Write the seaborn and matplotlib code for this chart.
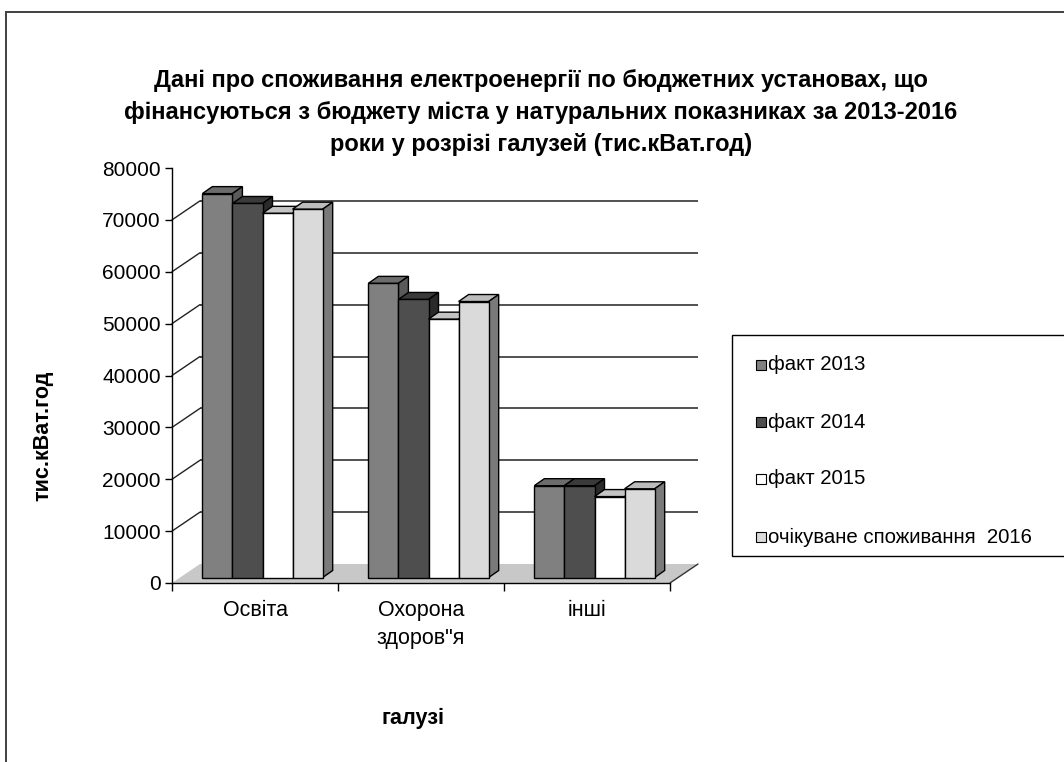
import matplotlib
matplotlib.use("Agg")
import matplotlib.pyplot as plt
import pandas as pd
import seaborn as sns
from matplotlib.patches import Polygon, Rectangle
from matplotlib.transforms import offset_copy

# ---- data (тис.кВат.год) ----
categories = ["Освіта", "Охорона\nздоров\"я", "інші"]
series = ["факт 2013", "факт 2014", "факт 2015", "очікуване споживання  2016"]
fact_2013 = [74000, 56700, 17700]
fact_2014 = [72100, 53600, 17700]
fact_2015 = [70200, 49800, 15600]
expected_2016 = [71000, 53200, 17100]
y_ticks = [0, 10000, 20000, 30000, 40000, 50000, 60000, 70000, 80000]

title = ("Дані про споживання електроенергії по бюджетних установах, що\n"
         "фінансуються з бюджету міста у натуральних показниках за 2013-2016\n"
         "роки у розрізі галузей (тис.кВат.год)")
x_label = "галузі"
y_label = "тис.кВат.год"

# ---- styles ----
front_colors = ["#808080", "#4e4e4e", "#ffffff", "#dadada"]
top_colors = ["#6c6c6c", "#3a3a3a", "#c4c4c4", "#bcbcbc"]
side_colors = ["#5a5a5a", "#2a2a2a", "#9a9a9a", "#7a7a7a"]

df = pd.DataFrame({
    "category": categories * 4,
    "series": [s for s in series for _ in categories],
    "value": fact_2013 + fact_2014 + fact_2015 + expected_2016,
})

sns.set_theme(style="white")
plt.rcParams["font.family"] = ["Liberation Sans", "DejaVu Sans"]
plt.rcParams["text.color"] = "black"
plt.rcParams["axes.labelcolor"] = "black"
plt.rcParams["xtick.color"] = "black"
plt.rcParams["ytick.color"] = "black"

W, H = 1064, 762
fig = plt.figure(figsize=(W / 100, H / 100), dpi=100)
fig.patch.set_facecolor("white")


def fx(px):
    return px / W


def fy(py):
    return 1 - py / H


# outer chart frame
fig.patches.append(Rectangle((fx(6), fy(790)), fx(1090) - fx(6), fy(12) - fy(790),
                             transform=fig.transFigure, fill=False,
                             edgecolor="#404040", linewidth=1.4, zorder=0))

ax = fig.add_axes([fx(172), fy(583), fx(670) - fx(172), fy(168) - fy(583)])
ax.set_facecolor("none")

sns.barplot(data=df, x="category", y="value", hue="series",
            order=categories, hue_order=series, palette=front_colors,
            saturation=1, width=0.725, edgecolor="black", linewidth=1.0,
            legend=False, ax=ax, zorder=10)

ax.set_xlim(-0.5, len(categories) - 0.5)
ax.set_ylim(y_ticks[0], y_ticks[-1])

# pixel -> data conversion for the oblique depth
p0 = ax.transData.transform((0, 0))
px_x = ax.transData.transform((1, 0))[0] - p0[0]
px_y = ax.transData.transform((0, 10000))[1] - p0[1]
dx = lambda px: px / px_x
dy = lambda px: px * 10000 / px_y

back_x, back_y = 28, 19     # wall depth in pixels
bar_x, bar_y = 7.5, 5.5     # bar front face offset
bd_x, bd_y = 10, 7          # bar depth

# back wall gridlines and their connectors to the value axis
grid_vals = y_ticks[1:-1]
ax.hlines(grid_vals, -0.5, len(categories) - 0.5, colors="#222222", linewidth=1.1,
          transform=offset_copy(ax.transData, fig, x=back_x, y=back_y, units="dots"),
          clip_on=False, zorder=1)
for v in grid_vals:
    ax.plot([-0.5, -0.5 + dx(back_x)], [v, v + dy(back_y)], color="#222222",
            linewidth=1.0, clip_on=False, zorder=1)

# floor
x0f, x1f = -0.5, len(categories) - 0.5
ax.add_patch(Polygon([(x0f, 0), (x1f, 0), (x1f + dx(back_x), dy(back_y)),
                      (x0f + dx(back_x), dy(back_y))], closed=True,
                     facecolor="#c8c8c8", edgecolor="none", clip_on=False, zorder=2))
ax.plot([x1f, x1f + dx(back_x)], [0, dy(back_y)], color="#333333", linewidth=1.0,
        clip_on=False, zorder=2)

# extrude bars: front face offset, then top and side faces
bar_tf = offset_copy(ax.transData, fig, x=bar_x, y=bar_y, units="dots")
n_h = len(series)
bars = sorted(ax.patches[:len(categories) * n_h], key=lambda p: p.get_x())
for i, p in enumerate(bars):
    k = i % n_h
    x0, w, h = p.get_x(), p.get_width(), p.get_height()
    x1 = x0 + w
    z = 10 + i
    p.set_transform(bar_tf)
    p.set_zorder(z + 0.5)
    p.set_clip_on(False)
    ddx, ddy = dx(bd_x), dy(bd_y)
    ax.add_patch(Polygon([(x0, h), (x1, h), (x1 + ddx, h + ddy), (x0 + ddx, h + ddy)],
                         closed=True, facecolor=top_colors[k], edgecolor="black",
                         linewidth=1.0, transform=bar_tf, clip_on=False, zorder=z))
    ax.add_patch(Polygon([(x1, 0), (x1, h), (x1 + ddx, h + ddy), (x1 + ddx, ddy)],
                         closed=True, facecolor=side_colors[k], edgecolor="black",
                         linewidth=1.0, transform=bar_tf, clip_on=False, zorder=z))

# axes styling
for s in ["top", "right"]:
    ax.spines[s].set_visible(False)
for s in ["left", "bottom"]:
    ax.spines[s].set_color("black")
    ax.spines[s].set_linewidth(1.0)
    ax.spines[s].set_zorder(30)
ax.set_yticks(y_ticks)
ax.set_yticklabels([str(v) for v in y_ticks], fontsize=15)
ax.tick_params(axis="y", which="major", direction="out", length=5, width=1.0,
               color="black", labelcolor="black", pad=3, left=True)
ax.set_xticks(range(len(categories)))
ax.set_xticklabels(categories, fontsize=15.5, linespacing=1.45)
ax.tick_params(axis="x", which="major", length=0, pad=12, labelcolor="black")
ax.set_xticks([i - 0.5 for i in range(len(categories) + 1)], minor=True)
ax.tick_params(axis="x", which="minor", direction="out", length=6, width=1.0,
               color="black", bottom=True)
ax.set_xlabel("")
ax.set_ylabel("")
ax.grid(False)

# titles and axis labels
fig.text(fx(541), fy(112), title, ha="center", va="center", fontsize=17,
         fontweight="bold", linespacing=1.5, color="black")
fig.text(fx(413), fy(718), x_label, ha="center", va="center", fontsize=15.5,
         fontweight="bold", color="black")
fig.text(fx(43), fy(436), y_label, ha="center", va="center", fontsize=15.5,
         fontweight="bold", rotation=90, color="black")

# legend
fig.patches.append(Rectangle((fx(732), fy(556)), fx(1090) - fx(732), fy(335) - fy(556),
                             transform=fig.transFigure, facecolor="white",
                             edgecolor="black", linewidth=1.0, zorder=1))
row_y = [365, 422, 479, 537]
for lab, col, ry in zip(series, front_colors, row_y):
    fig.patches.append(Rectangle((fx(756), fy(ry + 5)), fx(766) - fx(756), fy(ry - 5) - fy(ry + 5),
                                 transform=fig.transFigure, facecolor=col,
                                 edgecolor="black", linewidth=0.8, zorder=2))
    fig.text(fx(768), fy(ry), lab, ha="left", va="center", fontsize=14.7, zorder=3,
             color="black")

fig.savefig("out.png", dpi=100)
